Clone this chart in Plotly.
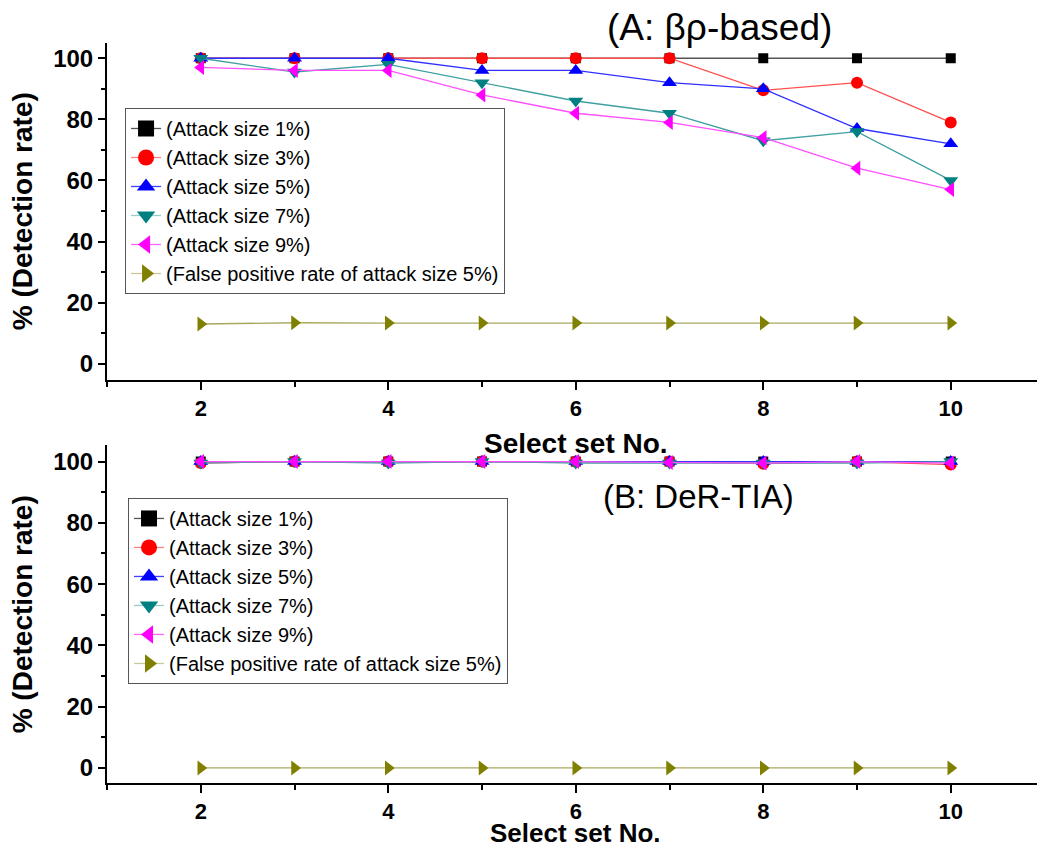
import plotly.graph_objects as go

# Select set numbers
set_no = [2, 3, 4, 5, 6, 7, 8, 9, 10]

series_names = [
    "(Attack size 1%)",
    "(Attack size 3%)",
    "(Attack size 5%)",
    "(Attack size 7%)",
    "(Attack size 9%)",
    "(False positive rate of attack size 5%)",
]

# Panel A: beta-rho based detection
a_size1 = [100, 100, 100, 100, 100, 100, 100, 100, 100]
a_size3 = [100, 100, 100, 100, 100, 100, 89.5, 92, 79]
a_size5 = [100, 100, 100, 96, 96, 92, 90, 77, 72]
a_size7 = [100, 95.5, 98, 92, 86, 82, 73, 76, 60]
a_size9 = [97, 96, 96, 88, 82, 79, 74, 64, 57]
a_fp5 = [13, 13.4, 13.3, 13.3, 13.3, 13.3, 13.3, 13.3, 13.3]

# Panel B: DeR-TIA detection
b_size1 = [100, 100, 100, 100, 100, 100, 100, 100, 100]
b_size3 = [99.5, 100, 100, 100, 100, 100, 99.3, 100, 99]
b_size5 = [100, 100, 100, 100, 100, 100, 100, 100, 100]
b_size7 = [99.5, 100, 99.5, 100, 99.5, 99.5, 99.5, 99.5, 100]
b_size9 = [100, 100, 100, 100, 100, 99.7, 99.5, 100, 99.5]
b_fp5 = [0, 0, 0, 0, 0, 0, 0, 0, 0]

symbols = ["square", "circle", "triangle-up", "triangle-down", "triangle-left", "triangle-right"]
marker_colors = ["#000000", "#ff0000", "#0000ff", "#008080", "#ff00ff", "#808000"]
line_colors = ["#555555", "#ff5050", "#3030ff", "#40a0a0", "#ff50ff", "#a8a860"]
legend_line_colors = ["#555555", "#ff8080", "#4040ff", "#99cccc", "#ff66ff", "#c8c898"]
marker_sizes = [10, 12, 13, 13, 13, 13]

FONT = "Liberation Sans, Arial, sans-serif"

fig = go.Figure()

panels = [
    ("x", "y", "legend", [a_size1, a_size3, a_size5, a_size7, a_size9, a_fp5]),
    ("x2", "y2", "legend2", [b_size1, b_size3, b_size5, b_size7, b_size9, b_fp5]),
]

for xa, ya, leg, data in panels:
    for i, vals in enumerate(data):
        fig.add_trace(go.Scatter(
            x=set_no, y=vals, xaxis=xa, yaxis=ya, mode="lines+markers",
            line=dict(color=line_colors[i], width=1.3),
            marker=dict(symbol=symbols[i], size=marker_sizes[i], color=marker_colors[i],
                        line=dict(width=0)),
            showlegend=False, hoverinfo="x+y",
        ))
    # legend entries with larger symbols
    for i, name in enumerate(series_names):
        fig.add_trace(go.Scatter(
            x=[None], y=[None], xaxis=xa, yaxis=ya, mode="lines+markers", name=name,
            line=dict(color=legend_line_colors[i], width=1.3),
            marker=dict(symbol=symbols[i], size=16, color=marker_colors[i], line=dict(width=0)),
            legend=leg, showlegend=True,
        ))

xaxis_common = dict(
    range=[1.0, 10.92], tick0=0, dtick=2, showgrid=False, zeroline=False,
    showline=True, linecolor="#000000", linewidth=2,
    ticks="outside", ticklen=8, tickwidth=1.5, tickcolor="#000000",
    tickfont=dict(family=FONT, size=22, color="#000000", weight="bold"),
    minor=dict(dtick=1, ticks="outside", ticklen=5, tickwidth=1.5, tickcolor="#000000"),
)
yaxis_common = dict(
    tick0=0, dtick=20, showgrid=False, zeroline=False,
    showline=True, linecolor="#000000", linewidth=2,
    ticks="outside", ticklen=7, tickwidth=1.5, tickcolor="#000000",
    tickfont=dict(family=FONT, size=24, color="#000000", weight="bold"),
    minor=dict(dtick=10, ticks="outside", ticklen=4, tickwidth=1.5, tickcolor="#000000"),
)

legend_common = dict(
    bgcolor="rgba(255,255,255,1)", bordercolor="#555555", borderwidth=1,
    font=dict(family=FONT, size=20, color="#000000"),
    xanchor="left", yanchor="top", tracegroupgap=0, itemsizing="trace",
)

axis_title_font = dict(family=FONT, size=28, color="#000000", weight="bold")


def label(text, x, y, font, angle=0):
    return dict(text=text, x=x, y=y, xref="paper", yref="paper", xanchor="center",
                yanchor="middle", textangle=angle, showarrow=False, font=font)


fig.update_layout(
    width=1037, height=845,
    margin=dict(l=107, r=0, t=0, b=0),
    paper_bgcolor="white", plot_bgcolor="white",
    font=dict(family=FONT),
    xaxis=dict(anchor="y", domain=[0, 1], **xaxis_common),
    yaxis=dict(anchor="x", domain=[0.5508, 0.9495], range=[-5.2, 105.1], **yaxis_common),
    xaxis2=dict(anchor="y2", domain=[0, 1], **xaxis_common),
    yaxis2=dict(anchor="x2", domain=[0.0734, 0.4734], range=[-4.9, 105.4], **yaxis_common),
    legend=dict(x=0.0194, y=0.8722, **legend_common),
    legend2=dict(x=0.0226, y=0.4107, **legend_common),
    annotations=[
        label("(A: βρ-based)", 0.659, 0.968, dict(family=FONT, size=37, color="#000000")),
        label("(B: DeR-TIA)", 0.636, 0.413, dict(family=FONT, size=33, color="#000000")),
        label("Select set No.", 0.504, 0.4757, axis_title_font),
        label("Select set No.", 0.504, 0.0145, dict(axis_title_font, size=26)),
        label("% (Detection rate)", -0.0914, 0.750, axis_title_font, -90),
        label("% (Detection rate)", -0.0914, 0.273, axis_title_font, -90),
    ],
)

fig.write_html("out.html")
